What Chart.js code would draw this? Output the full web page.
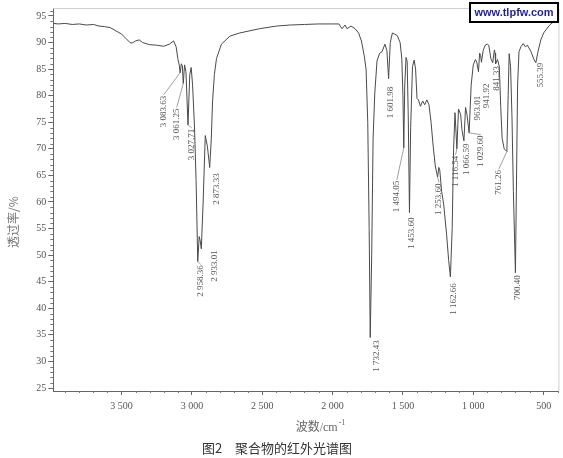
<!DOCTYPE html>
<html lang="zh">
<head>
<meta charset="UTF-8">
<title>聚合物的红外光谱图</title>
<script src="https://cdn.jsdelivr.net/npm/chart.js"></script>
<style>
  html, body { margin: 0; padding: 0; background: #fff; }
  #wrap { width: 563px; height: 458px; }
</style>
</head>
<body>
<div id="wrap"><canvas id="irChart" width="563" height="458"></canvas></div>
<script>
// spectrum (wavenumber in cm-1, transmittance in %)
const wavenumbers = [3985, 3950, 3900, 3850, 3800, 3750, 3700, 3660, 3620, 3580, 3540, 3500, 3470, 3440, 3425, 3400, 3375, 3350, 3300, 3250, 3200, 3160, 3130, 3112, 3100, 3090, 3083.63, 3075, 3068, 3061.25, 3052, 3042, 3027.71, 3015, 3005, 2995, 2982, 2970, 2958.36, 2948, 2940, 2933.01, 2920, 2905, 2890, 2873.33, 2862, 2853, 2840, 2825, 2790, 2730, 2660, 2520, 2400, 2300, 2200, 2100, 2000, 1955, 1933, 1911, 1897, 1869, 1840, 1815, 1795, 1775, 1762, 1750, 1740, 1732.43, 1722, 1712, 1700, 1684, 1665, 1648, 1628, 1614, 1601.98, 1590, 1575, 1560, 1540, 1520, 1508, 1500, 1494.05, 1487, 1478, 1470, 1462, 1453.6, 1445, 1432, 1420, 1410, 1400, 1390, 1375, 1360, 1345, 1330, 1315, 1300, 1285, 1270, 1253.6, 1245, 1238, 1225, 1210, 1190, 1175, 1162.66, 1150, 1140, 1130, 1116.54, 1105, 1090, 1080, 1066.59, 1055, 1045, 1029.6, 1015, 1000, 985, 975, 963.01, 955, 948, 941.92, 930, 915, 900, 890, 875, 862, 850, 845, 841.33, 828, 815, 805, 795, 780, 761.26, 752, 745, 735, 725, 715, 700.4, 692, 685, 675, 660, 645, 630, 615, 590, 570, 555.39, 540, 520, 500, 480, 460, 440, 420, 395];
const transmittance = [93.6, 93.5, 93.6, 93.4, 93.5, 93.3, 93.4, 93.1, 93.0, 92.8, 92.2, 91.6, 90.8, 90.0, 89.9, 90.3, 90.5, 90.0, 89.6, 89.5, 89.3, 89.7, 90.3, 89.2, 87.0, 85.8, 84.3, 86.0, 85.6, 82.3, 85.8, 84.5, 74.5, 84.0, 85.3, 82.0, 74.5, 64.0, 48.8, 53.5, 52.6, 51.2, 60.0, 72.5, 70.5, 66.5, 72.0, 79.0, 84.0, 87.0, 89.7, 91.2, 91.8, 92.6, 93.1, 93.3, 93.4, 93.5, 93.5, 93.5, 92.6, 93.3, 92.6, 93.1, 92.6, 91.8, 90.3, 87.5, 85.0, 75.0, 55.0, 34.5, 50.0, 72.0, 80.5, 86.6, 88.0, 88.3, 89.7, 88.5, 83.2, 90.0, 91.8, 91.6, 91.3, 90.0, 87.0, 80.0, 70.2, 82.0, 87.2, 86.5, 76.0, 58.0, 74.0, 85.5, 86.7, 85.0, 79.5, 79.2, 78.0, 79.0, 78.3, 79.2, 78.3, 75.0, 70.5, 66.8, 64.7, 66.5, 66.0, 62.0, 59.5, 54.0, 49.0, 45.9, 55.0, 70.0, 76.8, 70.0, 77.5, 76.5, 73.5, 71.5, 77.8, 76.5, 73.0, 82.0, 85.8, 86.8, 86.3, 84.5, 88.0, 87.6, 86.3, 88.5, 89.5, 89.7, 89.5, 87.0, 86.2, 88.6, 88.0, 86.0, 86.8, 85.5, 78.0, 72.0, 70.0, 69.5, 80.0, 87.9, 85.5, 76.0, 62.0, 46.7, 66.0, 82.0, 88.3, 89.3, 89.8, 89.2, 89.5, 88.3, 86.9, 86.2, 88.3, 90.5, 91.8, 92.5, 93.2, 93.7, 94.0, 94.3];

// marked bands
const peakWavenumbers = [3083.63, 3061.25, 3027.71, 2958.36, 2933.01, 2873.33, 1732.43, 1601.98, 1494.05, 1453.6, 1253.6, 1162.66, 1116.54, 1066.59, 1029.6, 963.01, 941.92, 841.33, 761.26, 700.4, 555.39];
const peakLabels = ['3 083.63', '3 061.25', '3 027.71', '2 958.36', '2 933.01', '2 873.33', '1 732.43', '1 601.98', '1 494.05', '1 453.60', '1 253.60', '1 162.66', '1 116.54', '1 066.59', '1 029.60', '963.01', '941.92', '841.33', '761.26', '700.40', '555.39'];

// axis ticks
const xTicks = [3500, 3000, 2500, 2000, 1500, 1000, 500];
const yTicks = [25, 30, 35, 40, 45, 50, 55, 60, 65, 70, 75, 80, 85, 90, 95];

// where each rotated label ends (top), in axis units, and whether a leader line is drawn
const labelLayout = {
  at: [[3200, 80.0], [3108, 77.6], [3002, 73.8], [2938, 48.1], [2839, 50.9], [2825, 65.4], [1690, 34.0], [1585, 81.7], [1543, 64.0], [1436, 57.1], [1244, 63.5], [1138, 44.7], [1126, 68.7], [1044, 71.0], [947, 72.5], [967, 80.0], [904, 82.3], [834, 85.6], [819, 66.0], [685, 46.2], [521, 86.2]],
  leader: [1, 1, 1, 1, 0, 0, 0, 0, 1, 0, 1, 0, 1, 0, 1, 0, 0, 0, 1, 0, 0]
};

function fmtWn(v) {
  if (v < 1000) return String(v);
  return Math.floor(v / 1000) + ' ' + String(v % 1000).padStart(3, '0');
}

const decorations = {
  id: 'decorations',
  afterDatasetsDraw(chart) {
    const { ctx, chartArea: a, scales: { x, y } } = chart;
    ctx.save();

    // faint frame top / right
    ctx.strokeStyle = '#cfcfcf';
    ctx.lineWidth = 1;
    ctx.beginPath();
    ctx.moveTo(a.left, a.top + 0.5);
    ctx.lineTo(a.right + 0.5, a.top + 0.5);
    ctx.lineTo(a.right + 0.5, a.bottom);
    ctx.stroke();

    // minor ticks
    ctx.strokeStyle = '#777';
    ctx.beginPath();
    for (let v = 25; v <= 96; v++) {
      if (v % 5 === 0) continue;
      const py = Math.round(y.getPixelForValue(v)) + 0.5;
      ctx.moveTo(a.left - 3, py);
      ctx.lineTo(a.left, py);
    }
    for (let v = 400; v <= 3900; v += 100) {
      if (v % 500 === 0) continue;
      const px = Math.round(x.getPixelForValue(v)) + 0.5;
      ctx.moveTo(px, a.bottom);
      ctx.lineTo(px, a.bottom + 2);
    }
    ctx.stroke();

    // band labels
    ctx.font = '9px "Liberation Serif"';
    ctx.fillStyle = '#555';
    ctx.strokeStyle = '#888';
    ctx.lineWidth = 0.8;
    peakWavenumbers.forEach((wn, i) => {
      const [lw, lt] = labelLayout.at[i];
      const px = x.getPixelForValue(lw);
      const py = y.getPixelForValue(lt);
      if (labelLayout.leader[i]) {
        const j = wavenumbers.indexOf(wn);
        ctx.beginPath();
        ctx.moveTo(x.getPixelForValue(wn), y.getPixelForValue(transmittance[j]));
        ctx.lineTo(px, py - 1);
        ctx.stroke();
      }
      ctx.save();
      ctx.translate(px, py);
      ctx.rotate(-Math.PI / 2);
      ctx.textAlign = 'right';
      ctx.textBaseline = 'middle';
      ctx.fillText(peakLabels[i], 0, 0);
      ctx.restore();
    });

    // y axis title
    ctx.save();
    ctx.translate(13, 222);
    ctx.rotate(-Math.PI / 2);
    ctx.textAlign = 'center';
    ctx.textBaseline = 'middle';
    ctx.fillStyle = '#777';
    ctx.font = '12px "Noto Sans CJK SC"';
    ctx.fillText('透过率/%', 0, 0);
    ctx.restore();

    // x axis title: 波数/cm-1
    ctx.textBaseline = 'alphabetic';
    ctx.textAlign = 'left';
    ctx.fillStyle = '#666';
    ctx.font = '12px "Noto Sans CJK SC"';
    const w1 = ctx.measureText('波数').width;
    ctx.font = '12px "Liberation Serif"';
    const w2 = ctx.measureText('/cm').width;
    ctx.font = '8px "Liberation Serif"';
    const w3 = ctx.measureText('-1').width;
    let tx = 320 - (w1 + w2 + w3) / 2;
    ctx.font = '12px "Noto Sans CJK SC"';
    ctx.fillText('波数', tx, 431);
    ctx.font = '12px "Liberation Serif"';
    ctx.fillText('/cm', tx + w1, 431);
    ctx.font = '8px "Liberation Serif"';
    ctx.fillText('-1', tx + w1 + w2 + 1, 425);

    // caption
    ctx.textAlign = 'center';
    ctx.fillStyle = '#333';
    ctx.font = '13px "Noto Sans CJK SC"';
    ctx.fillText('图2\u3000聚合物的红外光谱图', 277, 453);

    // watermark
    ctx.fillStyle = '#fff';
    ctx.fillRect(470, 3, 88, 19);
    ctx.strokeStyle = '#000';
    ctx.lineWidth = 2;
    ctx.strokeRect(470, 3, 88, 19);
    ctx.fillStyle = '#1f1fa0';
    ctx.font = 'bold 11px "Liberation Sans"';
    ctx.textBaseline = 'middle';
    ctx.fillText('www.tlpfw.com', 514, 13);

    ctx.restore();
  }
};

const ctx = document.getElementById('irChart').getContext('2d');
const irChart = new Chart(ctx, {
  type: 'line',
  data: {
    datasets: [{
      data: wavenumbers.map((w, i) => ({ x: w, y: transmittance[i] })),
      borderColor: '#4a4a4a',
      borderWidth: 1,
      pointRadius: 0,
      tension: 0,
      fill: false
    }]
  },
  options: {
    responsive: false,
    animation: false,
    devicePixelRatio: 1,
    layout: { padding: { top: 7, right: 4.6, left: 0, bottom: 0 } },
    plugins: { legend: { display: false }, tooltip: { enabled: false } },
    scales: {
      x: {
        type: 'linear',
        reverse: true,
        min: 395,
        max: 3985,
        afterBuildTicks: s => { s.ticks = xTicks.map(v => ({ value: v })); },
        afterFit: s => { s.height = 67; },
        grid: { drawOnChartArea: false, drawTicks: true, tickLength: 4, color: '#666' },
        border: { display: true, color: '#666', width: 1 },
        ticks: {
          autoSkip: false,
          maxRotation: 0,
          padding: 5,
          color: '#555',
          font: { family: 'Liberation Serif', size: 10 },
          callback: v => fmtWn(v)
        }
      },
      y: {
        min: 24.44,
        max: 96.5,
        afterBuildTicks: s => { s.ticks = yTicks.map(v => ({ value: v })); },
        afterFit: s => { s.width = 53.3; },
        grid: { drawOnChartArea: false, drawTicks: true, tickLength: 5, color: '#666' },
        border: { display: true, color: '#666', width: 1 },
        ticks: {
          autoSkip: false,
          padding: 2,
          color: '#555',
          font: { family: 'Liberation Serif', size: 10 },
          callback: v => String(v)
        }
      }
    }
  },
  plugins: [decorations]
});
</script>
</body>
</html>
